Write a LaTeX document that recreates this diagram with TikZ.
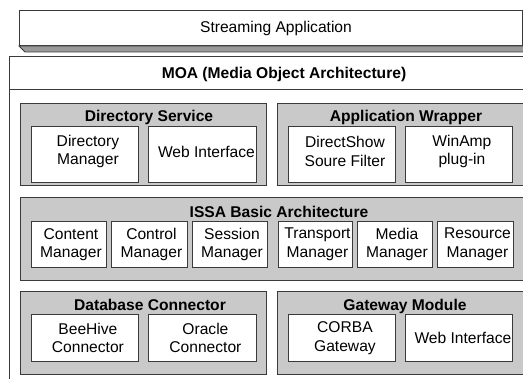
\documentclass[tikz,border=0pt]{standalone}
\usepackage{fontspec}
\setmainfont{Liberation Sans}
\definecolor{panelgray}{HTML}{C9C9C9}
\definecolor{shadegray}{HTML}{9A9A9A}
\definecolor{edge}{HTML}{3A3A3A}
\tikzset{
  frame/.style={draw=edge, fill=white, line width=1pt, anchor=north west, inner sep=0pt},
  panel/.style={draw=edge, fill=panelgray, line width=1pt, anchor=north west, inner sep=0pt},
  ibox/.style={draw=edge, fill=white, line width=0.9pt, anchor=north west, inner sep=0pt},
  ptitle/.style={anchor=base, inner sep=0pt, font=\bfseries\fontsize{15.6}{18}\selectfont},
  plain/.style={anchor=base, inner sep=0pt, font=\fontsize{15.6}{18}\selectfont},
  itext/.style={align=center, inner sep=0pt, font=\fontsize{15.6}{18.5}\selectfont},
}
% box given by style, name and its corners (x1,y1) (x2,y2), y running downwards
\newcommand\boxat[6]{%
  \node[#1, minimum width={(#5-#3)*1pt}, minimum height={(#6-#4)*1pt}] (#2) at (#3,#4) {};}
\begin{document}
\begin{tikzpicture}[x=1pt, y=-1pt]
\useasboundingbox (0,0) rectangle (523,379);
\clip (0,0) rectangle (523,379);

% application layer with its bottom face
\boxat{frame}{sa}{19}{10}{522}{45}
\filldraw[fill=shadegray, draw=edge, line width=0.9pt]
  (sa.south west) -- ++(6,6) -- ([xshift=6pt,yshift=-6pt]sa.south east) -- (sa.south east) -- cycle;
\node[plain] (sa-t) at (276,32.5) {Streaming Application};

% MOA frame
\boxat{frame}{moa}{9}{56}{540}{400}
\draw[edge, line width=1pt] (moa.north west |- 0,90) -- (moa.north east |- 0,90);
\node[ptitle] (moa-t) at (284,78.5) {MOA (Media Object Architecture)};

% panels
\boxat{panel}{ds}{20}{103}{266}{185}
\boxat{panel}{aw}{277}{103}{524}{185}
\boxat{panel}{issa}{20}{197}{524}{280}
\boxat{panel}{db}{20}{291}{266}{374}
\boxat{panel}{gw}{277}{291}{524}{374}

\node[ptitle] (ds-t) at (149,122) {Directory Service};
\node[ptitle] (aw-t) at (406,122) {Application Wrapper};
\node[ptitle] (issa-t) at (279,217.5) {ISSA Basic Architecture};
\node[ptitle] (db-t) at (150,311) {Database Connector};
\node[ptitle] (gw-t) at (405,311) {Gateway Module};

% top row components
\boxat{ibox}{dm}{31}{126}{138}{182}
\boxat{ibox}{wi}{148}{126}{256}{182}
\boxat{ibox}{dsf}{288}{126}{395}{182}
\boxat{ibox}{wa}{405}{126}{512}{182}
\node[itext] (dm-t) at ([xshift=3pt,yshift=3pt]dm.center) {Directory\\Manager};
\node[itext] (wi-t) at ([xshift=4pt,yshift=3pt]wi.center) {Web Interface};
\node[itext] (dsf-t) at ([xshift=3pt,yshift=3pt]dsf.center) {DirectShow\\Soure Filter};
\node[itext] (wa-t) at ([xshift=3pt,yshift=3pt]wa.center) {WinAmp\\plug-in};

% ISSA components
\boxat{ibox}{cm}{31}{221}{106}{267}
\boxat{ibox}{ctm}{111}{221}{187}{267}
\boxat{ibox}{sm}{192}{221}{267}{267}
\boxat{ibox}{tm}{278}{221}{352}{267}
\boxat{ibox}{mm}{357}{221}{432}{267}
\boxat{ibox}{rm}{437}{221}{513}{267}
\node[itext] (cm-t) at ([xshift=2pt]cm.center) {Content\\Manager};
\node[itext] (ctm-t) at ([xshift=2pt]ctm.center) {Control\\Manager};
\node[itext] (sm-t) at ([xshift=2pt]sm.center) {Session\\Manager};
\node[itext] (tm-t) at ([xshift=2pt]tm.center) {Transport\\Manager};
\node[itext] (mm-t) at ([xshift=2pt]mm.center) {Media\\Manager};
\node[itext] (rm-t) at ([xshift=2pt]rm.center) {Resource\\Manager};

% bottom row components
\boxat{ibox}{bh}{31}{314}{138}{361}
\boxat{ibox}{oc}{148}{314}{256}{361}
\boxat{ibox}{cg}{288}{314}{395}{361}
\boxat{ibox}{wi2}{405}{314}{512}{361}
\node[itext] (bh-t) at ([xshift=3pt]bh.center) {BeeHive\\Connector};
\node[itext] (oc-t) at ([xshift=3pt]oc.center) {Oracle\\Connector};
\node[itext] (cg-t) at ([xshift=3pt]cg.center) {CORBA\\Gateway};
\node[itext] (wi2-t) at ([xshift=4pt]wi2.center) {Web Interface};
\end{tikzpicture}
\end{document}
